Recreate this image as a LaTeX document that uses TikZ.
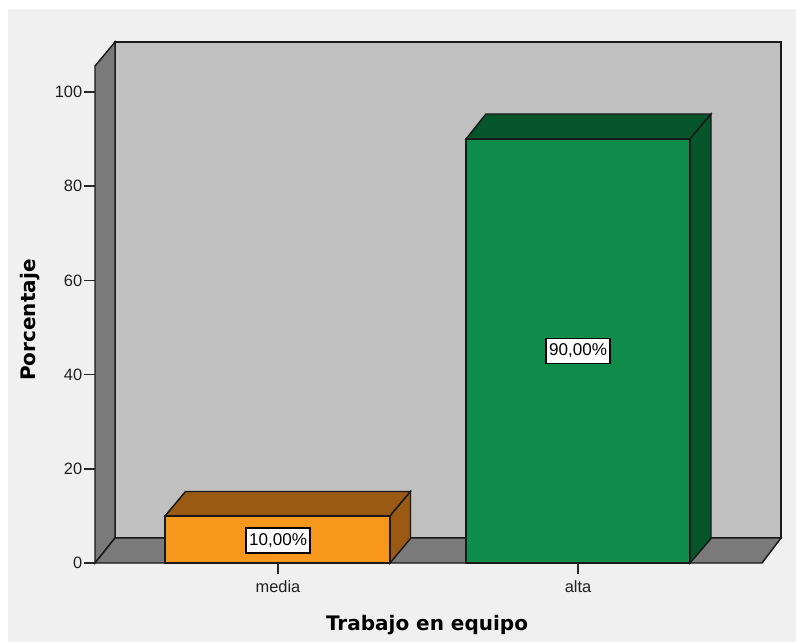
\documentclass[tikz,border=0pt]{standalone}
\usepackage{fontspec}
\setmainfont{Liberation Sans}
\newfontfamily\titlefont{DejaVu Sans}
\definecolor{bgc}{HTML}{F0F0F0}
\definecolor{wallc}{HTML}{C0C0C0}
\definecolor{sidec}{HTML}{7A7A7A}
\definecolor{orangef}{HTML}{F7981D}
\definecolor{oranged}{HTML}{9A5A14}
\definecolor{greenf}{HTML}{108C4A}
\definecolor{greend}{HTML}{07562B}
\definecolor{txtc}{HTML}{202020}
\begin{document}
\begin{tikzpicture}[x=0.75pt,y=-0.75pt,
  edge/.style={draw=black!90,line width=1.1pt,line join=miter},
  ticklab/.style={font=\fontsize{12.3}{14}\selectfont,text=txtc,inner sep=0pt},
  valbox/.style={draw=black,line width=1.1pt,fill=white,font=\fontsize{12.8}{14}\selectfont,inner xsep=2.2pt,inner ysep=4.2pt,text=black},
  axtitle/.style={font=\titlefont\bfseries\fontsize{15}{17}\selectfont,text=black,inner sep=0pt},
  tick/.style={draw=black!85,line width=1pt}]
\useasboundingbox (0,0) rectangle (796,642);
\fill[white] (0,0) rectangle (796,642);
\fill[bgc] (8,9) rectangle (796,642);
% walls
\path[edge,fill=wallc] (115,42) -- (781,42) -- (781,538) -- (115,538) -- cycle;
\path[edge,fill=sidec] (95,563) -- (95,66) -- (115,42) -- (115,538) -- cycle;
\path[edge,fill=sidec] (95,563) -- (762,563) -- (781,538) -- (115,538) -- cycle;
% orange bar
\path[edge,fill=oranged] (165,516) -- (185.5,491.5) -- (410.5,491.5) -- (390,516) -- cycle;
\path[edge,fill=oranged] (390,516) -- (410.5,491.5) -- (410.5,538.5) -- (390,563) -- cycle;
\path[edge,fill=orangef] (165,516) rectangle (390,563);
% green bar
\path[edge,fill=greend] (466,139) -- (486,114) -- (711,114) -- (690,139) -- cycle;
\path[edge,fill=greend] (690,139) -- (711,114) -- (711,538.5) -- (690,563) -- cycle;
\path[edge,fill=greenf] (466,139) rectangle (690,563);
% y axis ticks
\foreach \v/\yy in {0/563,20/469,40/374.5,60/280.5,80/186,100/92}{
  \coordinate (t\v) at (95,\yy);
  \coordinate (s\v) at (84,\yy);
  \draw[tick] (s\v) -- (t\v);
  \node[ticklab,anchor=east] (yl\v) at (82.5,\yy) {\v};
}
% category ticks
\coordinate (cm) at (278,563);
\coordinate (cme) at (278,574);
\coordinate (ca) at (578,563);
\coordinate (cae) at (578,574);
\draw[tick] (cm) -- (cme);
\draw[tick] (ca) -- (cae);
\node[ticklab,anchor=base] (lmedia) at (278,592) {media};
\node[ticklab,anchor=base] (lalta) at (578,592) {alta};
% value labels
\node[valbox] (v10) at (278,540.5) {10,00\%};
\node[valbox] (v90) at (578,351) {90,00\%};
% axis titles
\node[axtitle,anchor=base] (xt) at (427,630) {Trabajo en equipo};
\node[axtitle,rotate=90,anchor=base] (yt) at (36,320) {Porcentaje};
\end{tikzpicture}
\end{document}
